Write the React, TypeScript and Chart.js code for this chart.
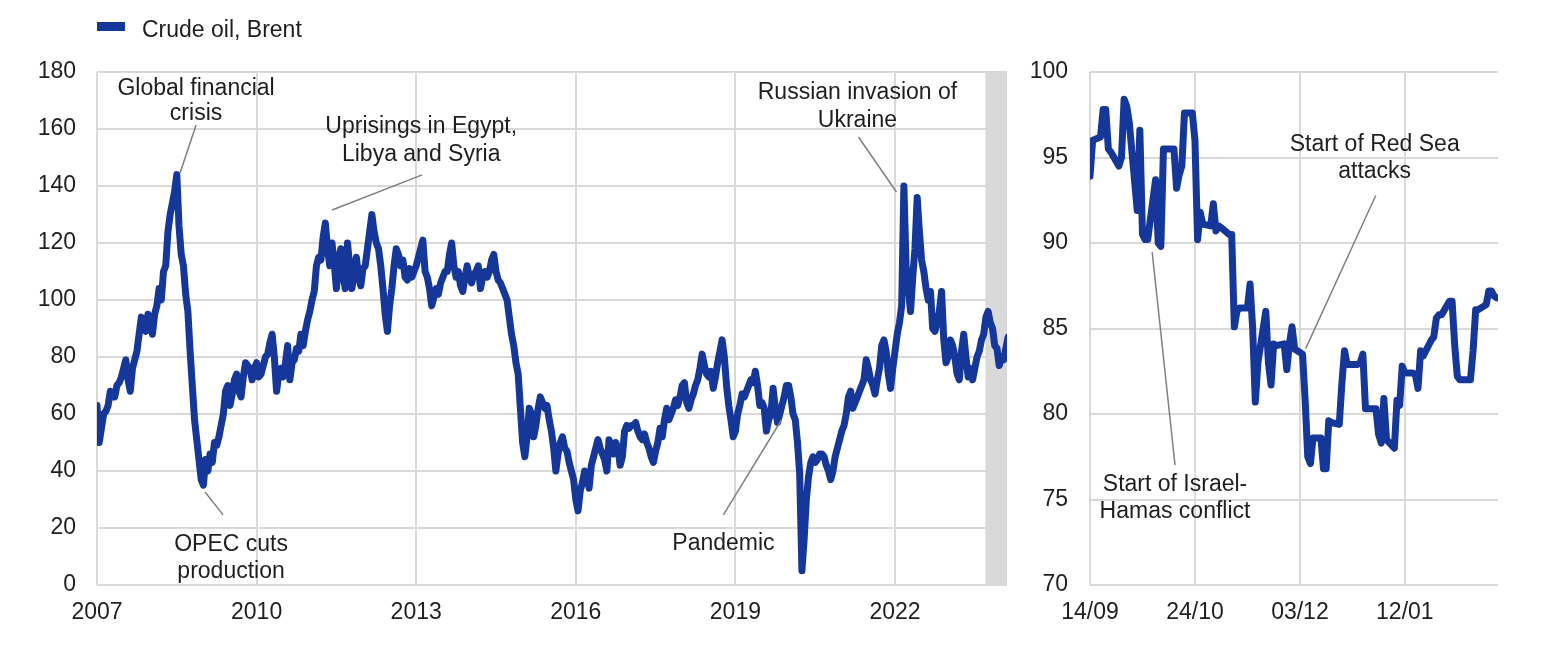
import React, { useEffect, useRef } from "react";
import { Chart, registerables } from "chart.js";

Chart.register(...registerables);

const FONT_FAMILY = '"Liberation Sans", Arial, sans-serif';
const FONT_SIZE = 23;
const BLUE = "#15379a";
const GRID = "#d9d9d9";
const TEXT = "#1e1e1e";
const NOTE_LINE = "#808080";
const SHADE = "#d9d9d9";
const LINE_WIDTH = 7;

const seriesName = "Crude oil, Brent";

// ---- Left panel: Brent, USD/barrel, semi-monthly readings from 2007 ----
const leftStartYear = 2007;
const leftStepsPerYear = 24;
const brent2007 = [63, 50, 55, 60, 61, 63, 68, 66, 66, 70, 71, 73, 76, 79, 72, 68, 76, 79, 82, 88, 94, 92, 89, 95];
const brent2008 = [92, 88, 95, 98, 104, 100, 110, 112, 124, 130, 134, 138, 144, 126, 116, 112, 102, 96, 82, 70, 58, 51, 44, 37];
const brent2009 = [35, 44, 40, 46, 43, 50, 49, 52, 56, 60, 68, 70, 63, 67, 72, 74, 68, 66, 73, 78, 77, 76, 72, 76];
const brent2010 = [78, 73, 74, 77, 80, 81, 85, 88, 80, 68, 74, 76, 73, 78, 84, 72, 78, 79, 83, 82, 88, 84, 89, 93];
const brent2011 = [96, 100, 103, 112, 115, 114, 122, 127, 118, 112, 120, 113, 104, 114, 118, 108, 104, 120, 112, 104, 110, 115, 108, 105];
const brent2012 = [111, 112, 118, 124, 130, 124, 120, 118, 112, 104, 95, 89, 98, 104, 112, 118, 116, 112, 114, 108, 107, 111, 108, 110];
const brent2013 = [112, 115, 118, 121, 110, 108, 104, 98, 101, 104, 102, 106, 108, 110, 110, 116, 120, 112, 108, 110, 105, 103, 108, 112];
const brent2014 = [108, 106, 109, 110, 112, 104, 108, 110, 108, 110, 114, 116, 110, 107, 106, 104, 102, 100, 94, 88, 84, 78, 74, 62];
const brent2015 = [50, 45, 52, 62, 60, 52, 56, 62, 66, 64, 62, 63, 58, 54, 48, 40, 46, 50, 52, 48, 47, 43, 40, 37];
const brent2016 = [30, 26, 33, 36, 40, 38, 34, 42, 45, 48, 51, 48, 46, 44, 40, 51, 48, 46, 50, 48, 42, 45, 54, 56];
const brent2017 = [55, 56, 56, 57, 54, 52, 51, 53, 50, 48, 45, 43, 47, 50, 55, 52, 58, 62, 58, 60, 62, 65, 63, 66];
const brent2018 = [70, 71, 64, 62, 65, 67, 70, 72, 76, 81, 77, 74, 73, 75, 69, 73, 78, 82, 86, 80, 70, 63, 58, 52];
const brent2019 = [54, 60, 63, 67, 66, 68, 70, 72, 71, 75, 70, 63, 64, 62, 54, 58, 60, 69, 62, 57, 60, 63, 66, 70];
const brent2020 = [70, 66, 60, 58, 50, 39, 5, 16, 30, 38, 43, 45, 43, 44, 46, 46, 45, 42, 40, 37, 40, 45, 48, 51];
const brent2021 = [54, 56, 60, 66, 68, 62, 64, 66, 68, 70, 72, 79, 76, 72, 70, 67, 72, 76, 84, 86, 82, 74, 69, 76];
const brent2022 = [82, 88, 92, 98, 140, 112, 104, 96, 108, 118, 136, 124, 114, 110, 104, 100, 103, 90, 89, 92, 96, 103, 86, 78];
const brent2023 = [80, 86, 84, 80, 74, 72, 82, 88, 80, 73, 76, 72, 76, 80, 82, 86, 88, 94, 96, 92, 90, 84, 83, 77];
const brent2024 = [80, 79, 83, 87];

const leftXMin = 2007;
const leftXMax = 2024.105;
const leftXTicks = [2007, 2010, 2013, 2016, 2019, 2022];
const leftYMin = 0;
const leftYMax = 180;
const leftYStep = 20;
const shadeStartYear = 2023.7;

// ---- Right panel: daily (business day) readings from 14/09/2023 ----
const rightSep2023 = [93.9, 96.0, 96.2, 97.8, 97.8, 95.5, 95.3, 94.5, 95.0, 98.4, 98.0, 97.0];
const rightOct2023 = [91.9, 96.6, 90.5, 90.2, 90.2, 93.7, 90.0, 89.8, 95.5, 95.5, 95.5, 93.2, 94.0, 94.5, 97.6, 97.6, 96.0, 90.2, 91.8, 91.1, 91.0, 92.3];
const rightNov2023 = [90.7, 91.0, 90.9, 90.5, 90.5, 85.1, 86.0, 86.2, 86.2, 87.6, 85.0, 80.7, 83.0, 86.0, 83.0, 81.7, 84.1, 84.0, 84.1, 82.6, 84.1, 85.1];
const rightDec2023 = [83.8, 83.5, 80.8, 77.5, 77.1, 78.6, 78.6, 76.8, 76.8, 79.6, 79.5, 79.4, 81.8, 83.7, 82.9, 82.9, 82.9, 83.0, 83.5, 80.3, 80.3];
const rightJan2024 = [80.3, 78.8, 78.3, 80.9, 78.5, 78.0, 80.8, 80.5, 82.8, 82.4, 82.4, 82.3, 81.5, 83.7, 83.4, 84.3, 84.5, 85.6, 85.8, 85.8, 86.6, 86.6, 84.0];
const rightFeb2024 = [82.2, 82.0, 82.0, 82.0, 83.7, 86.1, 86.1, 86.4, 87.2, 87.2, 86.9, 86.8];

const rightMonths = [
  { year: 2023, month: 8, firstDay: 14, values: rightSep2023 },
  { year: 2023, month: 9, firstDay: 1, values: rightOct2023 },
  { year: 2023, month: 10, firstDay: 1, values: rightNov2023 },
  { year: 2023, month: 11, firstDay: 1, values: rightDec2023 },
  { year: 2024, month: 0, firstDay: 1, values: rightJan2024 },
  { year: 2024, month: 1, firstDay: 1, values: rightFeb2024 },
];
const rightXMin = 0;
const rightXMax = 155.5;
const rightTickDays = [0, 40, 80, 120];
const rightTickLabels = ["14/09", "24/10", "03/12", "12/01"];
const rightYMin = 70;
const rightYMax = 100;
const rightYStep = 5;

// ---- Annotations (data units) ----
const leftNotes = [
  { lines: ["Global financial", "crisis"], x: 2008.862, y: [171.9, 163.2], from: [2008.862, 161.4], to: [2008.561, 144.6] },
  { lines: ["Uprisings in Egypt,", "Libya and Syria"], x: 2013.094, y: [158.6, 148.8], from: [2013.112, 143.9], to: [2011.42, 131.6] },
  { lines: ["OPEC cuts", "production"], x: 2009.52, y: [11.93, 2.46], from: [2009.031, 32.6], to: [2009.37, 24.6] },
  { lines: ["Pandemic"], x: 2018.775, y: [12.28], from: [2018.774, 24.6], to: [2019.865, 57.9] },
  { lines: ["Russian invasion of", "Ukraine"], x: 2021.294, y: [170.5, 160.7], from: [2021.313, 157.2], to: [2022.027, 137.9] },
];
const rightNotes = [
  { lines: ["Start of Red Sea", "attacks"], x: 108.5, y: [95.38, 93.8], from: [108.9, 92.78], to: [82.2, 83.82] },
  { lines: ["Start of Israel-", "Hamas conflict"], x: 32.4, y: [75.52, 73.9], from: [32.4, 77.02], to: [23.7, 89.47] },
];

function buildLeftPoints() {
  const years = [brent2007, brent2008, brent2009, brent2010, brent2011, brent2012, brent2013, brent2014, brent2015,
    brent2016, brent2017, brent2018, brent2019, brent2020, brent2021, brent2022, brent2023, brent2024];
  const pts: { x: number; y: number }[] = [];
  years.forEach((vals, yi) => {
    vals.forEach((v, i) => {
      pts.push({ x: leftStartYear + yi + i / leftStepsPerYear, y: v });
    });
  });
  return pts;
}

function buildRightPoints() {
  const start = Date.UTC(2023, 8, 14);
  const pts: { x: number; y: number }[] = [];
  for (const mo of rightMonths) {
    let day = mo.firstDay;
    let i = 0;
    while (i < mo.values.length) {
      const t = Date.UTC(mo.year, mo.month, day);
      const wd = new Date(t).getUTCDay();
      if (wd !== 0 && wd !== 6) {
        pts.push({ x: (t - start) / 86400000, y: mo.values[i] });
        i++;
      }
      day++;
    }
  }
  return pts;
}

const font = { family: FONT_FAMILY, size: FONT_SIZE };

function notesPlugin(notes: any[], shadeFrom: number | null) {
  return {
    id: "notes",
    beforeDatasetsDraw(chart: any) {
      if (shadeFrom === null) return;
      const { ctx, chartArea, scales } = chart;
      const x0 = scales.x.getPixelForValue(shadeFrom);
      ctx.save();
      ctx.fillStyle = SHADE;
      ctx.fillRect(x0, chartArea.top, chartArea.right - x0, chartArea.bottom - chartArea.top);
      ctx.restore();
    },
    afterDatasetsDraw(chart: any) {
      const { ctx, scales } = chart;
      const sx = scales.x;
      const sy = scales.y;
      ctx.save();
      for (const n of notes) {
        ctx.strokeStyle = NOTE_LINE;
        ctx.lineWidth = 1.5;
        ctx.beginPath();
        ctx.moveTo(sx.getPixelForValue(n.from[0]), sy.getPixelForValue(n.from[1]));
        ctx.lineTo(sx.getPixelForValue(n.to[0]), sy.getPixelForValue(n.to[1]));
        ctx.stroke();
        ctx.fillStyle = TEXT;
        ctx.font = `${FONT_SIZE}px ${FONT_FAMILY}`;
        ctx.textAlign = "center";
        ctx.textBaseline = "alphabetic";
        n.lines.forEach((line: string, i: number) => {
          ctx.fillText(line, sx.getPixelForValue(n.x), sy.getPixelForValue(n.y[i]));
        });
      }
      ctx.restore();
    },
  };
}

const legendPlugin = {
  id: "customLegend",
  afterDraw(chart: any) {
    const { ctx, chartArea } = chart;
    const ds = chart.data.datasets[0];
    ctx.save();
    ctx.fillStyle = ds.borderColor;
    ctx.fillRect(chartArea.left, 22, 28, 9);
    ctx.fillStyle = TEXT;
    ctx.font = `${FONT_SIZE}px ${FONT_FAMILY}`;
    ctx.textAlign = "left";
    ctx.textBaseline = "alphabetic";
    ctx.fillText(ds.label, chartArea.left + 45, 37);
    ctx.restore();
  },
};

function gridOpts() {
  return { color: GRID, lineWidth: 2, drawTicks: false };
}

function lineDataset(points: { x: number; y: number }[]) {
  return {
    label: seriesName,
    data: points,
    borderColor: BLUE,
    backgroundColor: BLUE,
    borderWidth: LINE_WIDTH,
    pointRadius: 0,
    tension: 0,
    borderJoinStyle: "round",
    borderCapStyle: "round",
  };
}

function leftConfig(): any {
  return {
    type: "line",
    data: { datasets: [lineDataset(buildLeftPoints())] },
    options: {
      animation: false,
      responsive: false,
      layout: { padding: { top: 72, right: 13, bottom: 0, left: 0 } },
      plugins: { legend: { display: false }, tooltip: { enabled: false }, title: { display: false } },
      scales: {
        x: {
          type: "linear",
          min: leftXMin,
          max: leftXMax,
          afterBuildTicks: (s: any) => {
            s.ticks = leftXTicks.map((v) => ({ value: v }));
          },
          afterFit: (s: any) => {
            s.height = 65;
          },
          grid: gridOpts(),
          border: { display: false },
          ticks: { font, color: TEXT, padding: 14, maxRotation: 0, autoSkip: false, callback: (v: any) => String(v) },
        },
        y: {
          type: "linear",
          min: leftYMin,
          max: leftYMax,
          afterFit: (s: any) => {
            s.width = 97;
          },
          grid: gridOpts(),
          border: { display: false },
          ticks: { font, color: TEXT, padding: 21, stepSize: leftYStep },
        },
      },
    },
    plugins: [notesPlugin(leftNotes, shadeStartYear), legendPlugin],
  };
}

function rightConfig(): any {
  return {
    type: "line",
    data: { datasets: [lineDataset(buildRightPoints())] },
    options: {
      animation: false,
      responsive: false,
      layout: { padding: { top: 72, right: 58, bottom: 0, left: 0 } },
      plugins: { legend: { display: false }, tooltip: { enabled: false }, title: { display: false } },
      scales: {
        x: {
          type: "linear",
          min: rightXMin,
          max: rightXMax,
          afterBuildTicks: (s: any) => {
            s.ticks = rightTickDays.map((v) => ({ value: v }));
          },
          afterFit: (s: any) => {
            s.height = 65;
          },
          grid: gridOpts(),
          border: { display: false },
          ticks: {
            font,
            color: TEXT,
            padding: 14,
            maxRotation: 0,
            autoSkip: false,
            callback: (v: any) => rightTickLabels[rightTickDays.indexOf(v)] ?? "",
          },
        },
        y: {
          type: "linear",
          min: rightYMin,
          max: rightYMax,
          afterFit: (s: any) => {
            s.width = 70;
          },
          grid: gridOpts(),
          border: { display: false },
          ticks: { font, color: TEXT, padding: 22, stepSize: rightYStep },
        },
      },
    },
    plugins: [notesPlugin(rightNotes, null)],
  };
}

function ChartCanvas({ makeConfig, left, width, height }: { makeConfig: () => any; left: number; width: number; height: number }) {
  const ref = useRef<HTMLCanvasElement>(null);
  useEffect(() => {
    if (!ref.current) return;
    const chart = new Chart(ref.current, makeConfig());
    return () => chart.destroy();
  }, []);
  return (
    <canvas
      ref={ref}
      width={width}
      height={height}
      style={{ position: "absolute", left, top: 0, width, height, display: "block" }}
    />
  );
}

export default function App() {
  return (
    <div style={{ position: "fixed", left: 0, top: 0, width: 1556, height: 650, background: "#ffffff", overflow: "hidden" }}>
      <ChartCanvas makeConfig={leftConfig} left={0} width={1020} height={650} />
      <ChartCanvas makeConfig={rightConfig} left={1020} width={536} height={650} />
    </div>
  );
}
